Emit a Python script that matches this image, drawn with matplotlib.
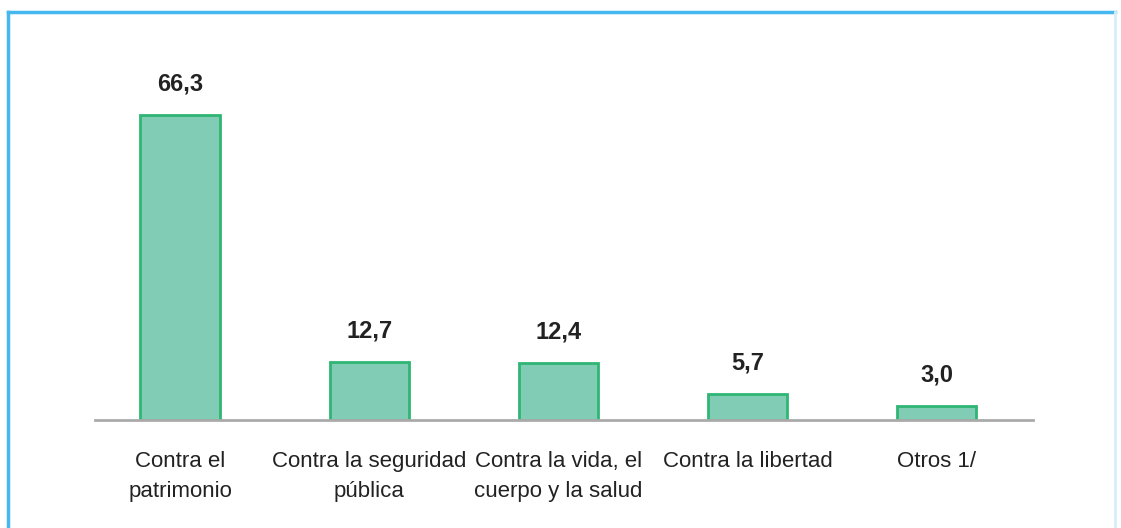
import matplotlib.pyplot as plt
from matplotlib.lines import Line2D
from matplotlib import font_manager

categories = ["Contra el\npatrimonio", "Contra la seguridad\npública",
              "Contra la vida, el\ncuerpo y la salud", "Contra la libertad", "Otros 1/"]
values = [66.3, 12.7, 12.4, 5.7, 3.0]
value_labels = ["66,3", "12,7", "12,4", "5,7", "3,0"]

names = {f.name for f in font_manager.fontManager.ttflist}
family = ["Liberation Sans Narrow", "DejaVu Sans"] if "Liberation Sans Narrow" in names else ["Liberation Sans", "DejaVu Sans"]
plt.rcParams["font.family"] = family

W, H = 1121, 528
fig = plt.figure(figsize=(W / 100, H / 100), dpi=100)
ax = fig.add_axes([95 / W, (H - 420) / H, 938 / W, 368 / H])

x = range(len(values))
ax.bar(x, values, width=0.42, color="#80ccb4", edgecolor="#2fb574", linewidth=2, zorder=2)
for i, (v, lab) in enumerate(zip(values, value_labels)):
    ax.text(i, v + 4.2, lab, ha="center", va="bottom", fontsize=17, fontweight="bold", color="#222222")

ax.set_xlim(-0.45, 4.51)
ax.set_ylim(0, 80)
ax.set_xticks(list(x))
ax.set_xticklabels(categories, fontsize=16, color="#222222", linespacing=1.6)
ax.tick_params(axis="x", length=0, pad=22)
ax.set_yticks([])
for s in ["top", "right", "left"]:
    ax.spines[s].set_visible(False)
ax.spines["bottom"].set_color("#aaaaaa")
ax.spines["bottom"].set_linewidth(2)

# light blue frame around the chart
c = "#45b9ef"
fig.add_artist(Line2D([8 / W, 1115 / W], [1 - 12 / H, 1 - 12 / H], color=c, lw=2.5))
fig.add_artist(Line2D([8 / W, 8 / W], [0, 1 - 12 / H], color=c, lw=2.5))
fig.add_artist(Line2D([1115 / W, 1115 / W], [0, 1 - 12 / H], color="#d6eefa", lw=2))

fig.savefig("out.png", dpi=100)
